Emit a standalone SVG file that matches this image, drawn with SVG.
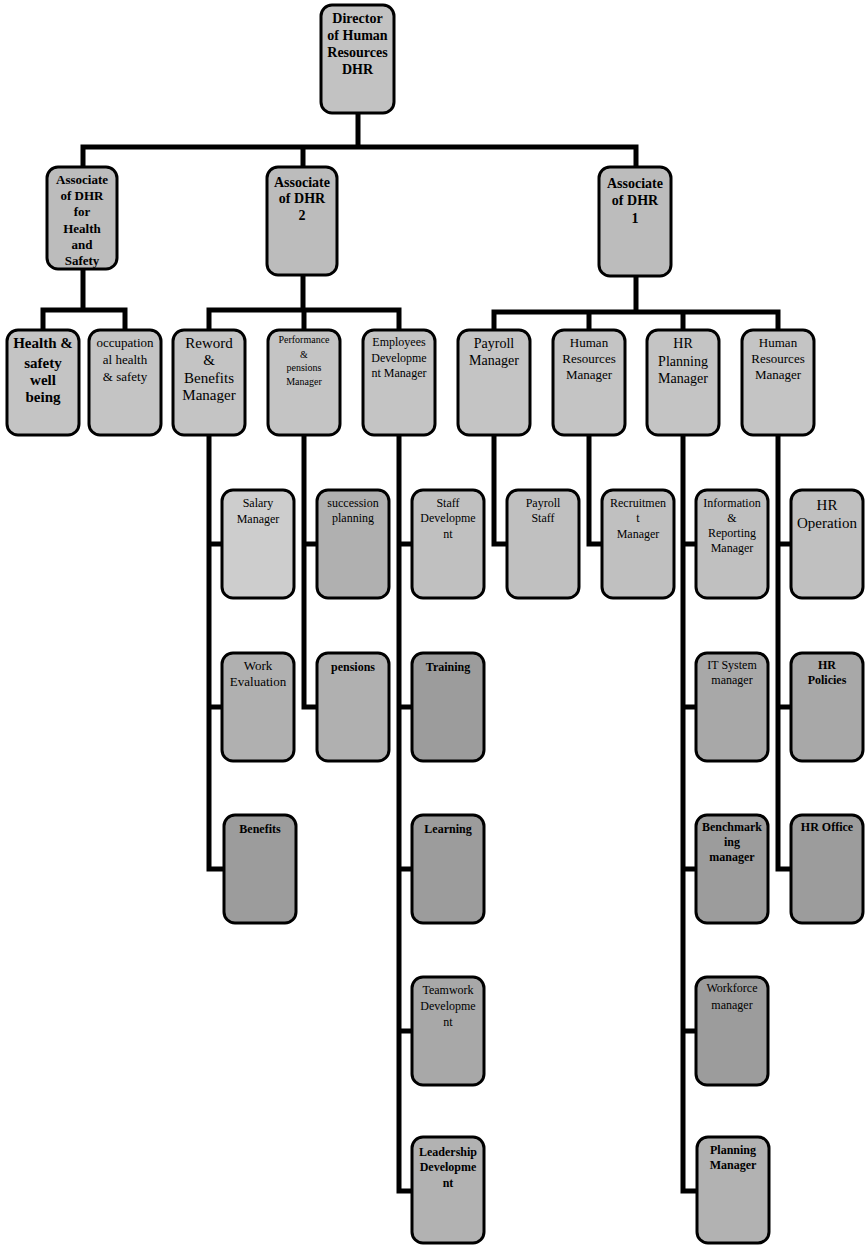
<svg xmlns="http://www.w3.org/2000/svg" width="867" height="1248" viewBox="0 0 867 1248">
<style>
.bg{fill:#ffffff}
.box{stroke:#000;stroke-width:3}
.conn{fill:none;stroke:#000;stroke-width:5;stroke-linejoin:miter;stroke-linecap:square}
text{font-family:"Liberation Serif","Times New Roman",serif;text-anchor:middle;fill:#000}
.b{font-weight:bold}
.s13{font-size:13px}
.s12{font-size:12px}
.s14{font-size:14px}
.s15{font-size:15px}
.s10{font-size:10px}
.g1{fill:#c2c2c2}
.g2{fill:#bcbcbc}
.g3{fill:#c4c4c4}
.g4a{fill:#cdcdcd}
.g4{fill:#c0c0c0}
.g5{fill:#b0b0b0}
.g6{fill:#9c9c9c}
.g7{fill:#a8a8a8}
.g8{fill:#b2b2b2}
</style>
<rect class="bg" x="0" y="0" width="867" height="1248"/>
<g id="connectors">
<path class="conn" d="M358 113 V147 M83 147 H636 M83 147 V167 M303 147 V167 M636 147 V167"/>
<path class="conn" d="M83 269 V310 M43 310 H125 M43 310 V330 M125 310 V330"/>
<path class="conn" d="M303 275 V310 M209 310 H399 M209 310 V330 M304 310 V330 M399 310 V330"/>
<path class="conn" d="M636 276 V312 M494 312 H778 M494 312 V330 M589 312 V330 M683 312 V330 M778 312 V330"/>
<path class="conn" d="M209 435 V869 H222 M209 544 H222 M209 707 H222"/>
<path class="conn" d="M304 435 V707 H317 M304 544 H317"/>
<path class="conn" d="M399 435 V1191 H412 M399 544 H412 M399 707 H412 M399 869 H412 M399 1031 H412"/>
<path class="conn" d="M494 435 V544 H507"/>
<path class="conn" d="M589 435 V544 H602"/>
<path class="conn" d="M683 435 V1191 H696 M683 544 H696 M683 707 H696 M683 869 H696 M683 1031 H696"/>
<path class="conn" d="M778 435 V869 H791 M778 544 H791 M778 707 H791"/>
</g>
<g id="director">
<rect class="box g1" x="321" y="5" width="73" height="108" rx="11"/>
<text class="b s14" x="357.5" y="23">Director</text>
<text class="b s14" x="357.5" y="40">of Human</text>
<text class="b s14" x="357.5" y="57">Resources</text>
<text class="b s14" x="357.5" y="74">DHR</text>
</g>
<g id="assoc-hs">
<rect class="box g2" x="47" y="167" width="70" height="102" rx="11"/>
<text class="b s13" x="82" y="184">Associate</text>
<text class="b s13" x="82" y="200">of DHR</text>
<text class="b s13" x="82" y="216">for</text>
<text class="b s13" x="82" y="233">Health</text>
<text class="b s13" x="82" y="249">and</text>
<text class="b s13" x="82" y="265">Safety</text>
</g>
<g id="assoc-2">
<rect class="box g2" x="267" y="167" width="70" height="108" rx="11"/>
<text class="b s14" x="302" y="187">Associate</text>
<text class="b s14" x="302" y="203">of DHR</text>
<text class="b s14" x="302" y="220">2</text>
</g>
<g id="assoc-1">
<rect class="box g2" x="599" y="167" width="72" height="109" rx="11"/>
<text class="b s14" x="635" y="188">Associate</text>
<text class="b s14" x="635" y="205">of DHR</text>
<text class="b s14" x="635" y="223">1</text>
</g>
<g id="health-safety">
<rect class="box g3" x="7" y="330" width="72" height="105" rx="11"/>
<text class="b s15" x="43" y="348">Health &amp;</text>
<text class="b s15" x="43" y="368">safety</text>
<text class="b s15" x="43" y="385">well</text>
<text class="b s15" x="43" y="402">being</text>
</g>
<g id="occupational">
<rect class="box g3" x="89" y="330" width="72" height="105" rx="11"/>
<text class="s13" x="125" y="347">occupation</text>
<text class="s13" x="125" y="364">al health</text>
<text class="s13" x="125" y="381">&amp; safety</text>
</g>
<g id="reword">
<rect class="box g3" x="173" y="330" width="72" height="105" rx="11"/>
<text class="s15" x="209" y="348">Reword</text>
<text class="s15" x="209" y="365">&amp;</text>
<text class="s15" x="209" y="383">Benefits</text>
<text class="s15" x="209" y="400">Manager</text>
</g>
<g id="performance">
<rect class="box g3" x="268" y="330" width="72" height="105" rx="11"/>
<text class="s10" x="304" y="343">Performance</text>
<text class="s10" x="304" y="358">&amp;</text>
<text class="s10" x="304" y="371">pensions</text>
<text class="s10" x="304" y="385">Manager</text>
</g>
<g id="employees">
<rect class="box g3" x="363" y="330" width="72" height="105" rx="11"/>
<text class="s12" x="399" y="346">Employees</text>
<text class="s12" x="399" y="362">Developme</text>
<text class="s12" x="399" y="377">nt Manager</text>
</g>
<g id="payroll-manager">
<rect class="box g3" x="458" y="330" width="72" height="105" rx="11"/>
<text class="s14" x="494" y="348">Payroll</text>
<text class="s14" x="494" y="365">Manager</text>
</g>
<g id="hr-manager-1">
<rect class="box g3" x="553" y="330" width="72" height="105" rx="11"/>
<text class="s13" x="589" y="347">Human</text>
<text class="s13" x="589" y="363">Resources</text>
<text class="s13" x="589" y="379">Manager</text>
</g>
<g id="hr-planning">
<rect class="box g3" x="647" y="330" width="72" height="105" rx="11"/>
<text class="s14" x="683" y="348">HR</text>
<text class="s14" x="683" y="366">Planning</text>
<text class="s14" x="683" y="383">Manager</text>
</g>
<g id="hr-manager-2">
<rect class="box g3" x="742" y="330" width="72" height="105" rx="11"/>
<text class="s13" x="778" y="347">Human</text>
<text class="s13" x="778" y="363">Resources</text>
<text class="s13" x="778" y="379">Manager</text>
</g>
<g id="salary">
<rect class="box g4a" x="222" y="490" width="72" height="108" rx="11"/>
<text class="s12" x="258" y="507">Salary</text>
<text class="s12" x="258" y="523">Manager</text>
</g>
<g id="work-eval">
<rect class="box g5" x="222" y="653" width="72" height="108" rx="11"/>
<text class="s13" x="258" y="670">Work</text>
<text class="s13" x="258" y="686">Evaluation</text>
</g>
<g id="benefits">
<rect class="box g6" x="224" y="815" width="72" height="108" rx="11"/>
<text class="b s12" x="260" y="833">Benefits</text>
</g>
<g id="succession">
<rect class="box g5" x="317" y="490" width="72" height="108" rx="11"/>
<text class="s12" x="353" y="507">succession</text>
<text class="s12" x="353" y="522">planning</text>
</g>
<g id="pensions">
<rect class="box g5" x="317" y="653" width="72" height="108" rx="11"/>
<text class="b s12" x="353" y="671">pensions</text>
</g>
<g id="staff-dev">
<rect class="box g4" x="412" y="490" width="72" height="108" rx="11"/>
<text class="s12" x="448" y="507">Staff</text>
<text class="s12" x="448" y="522">Developme</text>
<text class="s12" x="448" y="538">nt</text>
</g>
<g id="training">
<rect class="box g6" x="412" y="653" width="72" height="108" rx="11"/>
<text class="b s12" x="448" y="671">Training</text>
</g>
<g id="learning">
<rect class="box g6" x="412" y="815" width="72" height="108" rx="11"/>
<text class="b s12" x="448" y="833">Learning</text>
</g>
<g id="teamwork">
<rect class="box g7" x="412" y="977" width="72" height="108" rx="11"/>
<text class="s12" x="448" y="994">Teamwork</text>
<text class="s12" x="448" y="1010">Developme</text>
<text class="s12" x="448" y="1026">nt</text>
</g>
<g id="leadership">
<rect class="box g8" x="412" y="1137" width="72" height="106" rx="11"/>
<text class="b s12" x="448" y="1156">Leadership</text>
<text class="b s12" x="448" y="1171">Developme</text>
<text class="b s12" x="448" y="1187">nt</text>
</g>
<g id="payroll-staff">
<rect class="box g4" x="507" y="490" width="72" height="108" rx="11"/>
<text class="s12" x="543" y="507">Payroll</text>
<text class="s12" x="543" y="522">Staff</text>
</g>
<g id="recruitment">
<rect class="box g4" x="602" y="490" width="72" height="108" rx="11"/>
<text class="s12" x="638" y="507">Recruitmen</text>
<text class="s12" x="638" y="522">t</text>
<text class="s12" x="638" y="538">Manager</text>
</g>
<g id="information">
<rect class="box g4" x="696" y="490" width="72" height="108" rx="11"/>
<text class="s12" x="732" y="507">Information</text>
<text class="s12" x="732" y="522">&amp;</text>
<text class="s12" x="732" y="537">Reporting</text>
<text class="s12" x="732" y="552">Manager</text>
</g>
<g id="it-system">
<rect class="box g7" x="696" y="653" width="72" height="108" rx="11"/>
<text class="s12" x="732" y="669">IT System</text>
<text class="s12" x="732" y="684">manager</text>
</g>
<g id="benchmarking">
<rect class="box g6" x="696" y="815" width="72" height="108" rx="11"/>
<text class="b s12" x="732" y="831">Benchmark</text>
<text class="b s12" x="732" y="846">ing</text>
<text class="b s12" x="732" y="861">manager</text>
</g>
<g id="workforce">
<rect class="box g6" x="696" y="977" width="72" height="108" rx="11"/>
<text class="s12" x="732" y="992">Workforce</text>
<text class="s12" x="732" y="1009">manager</text>
</g>
<g id="planning-manager">
<rect class="box g8" x="697" y="1137" width="72" height="106" rx="11"/>
<text class="b s12" x="733" y="1154">Planning</text>
<text class="b s12" x="733" y="1169">Manager</text>
</g>
<g id="hr-operation">
<rect class="box g4" x="791" y="490" width="72" height="108" rx="11"/>
<text class="s15" x="827" y="510">HR</text>
<text class="s15" x="827" y="528">Operation</text>
</g>
<g id="hr-policies">
<rect class="box g7" x="791" y="653" width="72" height="108" rx="11"/>
<text class="b s12" x="827" y="669">HR</text>
<text class="b s12" x="827" y="684">Policies</text>
</g>
<g id="hr-office">
<rect class="box g6" x="791" y="815" width="72" height="108" rx="11"/>
<text class="b s12" x="827" y="831">HR Office</text>
</g>
</svg>
